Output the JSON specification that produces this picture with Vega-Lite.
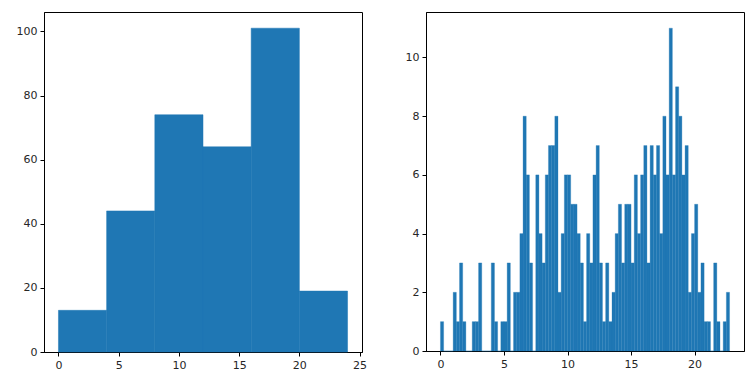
{
  "$schema": "https://vega.github.io/schema/vega-lite/v6.json",
  "padding": {"left": 15, "top": 11, "right": 5, "bottom": 5},
  "background": "white",
  "datasets": {
    "coarse": [
      {"x0": 0, "x1": 4, "count": 13},
      {"x0": 4, "x1": 8, "count": 44},
      {"x0": 8, "x1": 12, "count": 74},
      {"x0": 12, "x1": 16, "count": 64},
      {"x0": 16, "x1": 20, "count": 101},
      {"x0": 20, "x1": 24, "count": 19}
    ],
    "fine": [
      {"x0": 0.0, "x1": 0.25, "count": 1},
      {"x0": 0.25, "x1": 0.5, "count": 0},
      {"x0": 0.5, "x1": 0.75, "count": 0},
      {"x0": 0.75, "x1": 1.0, "count": 0},
      {"x0": 1.0, "x1": 1.25, "count": 2},
      {"x0": 1.25, "x1": 1.5, "count": 1},
      {"x0": 1.5, "x1": 1.75, "count": 3},
      {"x0": 1.75, "x1": 2.0, "count": 1},
      {"x0": 2.0, "x1": 2.25, "count": 0},
      {"x0": 2.25, "x1": 2.5, "count": 0},
      {"x0": 2.5, "x1": 2.75, "count": 1},
      {"x0": 2.75, "x1": 3.0, "count": 1},
      {"x0": 3.0, "x1": 3.25, "count": 3},
      {"x0": 3.25, "x1": 3.5, "count": 0},
      {"x0": 3.5, "x1": 3.75, "count": 0},
      {"x0": 3.75, "x1": 4.0, "count": 0},
      {"x0": 4.0, "x1": 4.25, "count": 3},
      {"x0": 4.25, "x1": 4.5, "count": 1},
      {"x0": 4.5, "x1": 4.75, "count": 0},
      {"x0": 4.75, "x1": 5.0, "count": 1},
      {"x0": 5.0, "x1": 5.25, "count": 1},
      {"x0": 5.25, "x1": 5.5, "count": 3},
      {"x0": 5.5, "x1": 5.75, "count": 0},
      {"x0": 5.75, "x1": 6.0, "count": 2},
      {"x0": 6.0, "x1": 6.25, "count": 2},
      {"x0": 6.25, "x1": 6.5, "count": 4},
      {"x0": 6.5, "x1": 6.75, "count": 8},
      {"x0": 6.75, "x1": 7.0, "count": 6},
      {"x0": 7.0, "x1": 7.25, "count": 3},
      {"x0": 7.25, "x1": 7.5, "count": 0},
      {"x0": 7.5, "x1": 7.75, "count": 6},
      {"x0": 7.75, "x1": 8.0, "count": 4},
      {"x0": 8.0, "x1": 8.25, "count": 3},
      {"x0": 8.25, "x1": 8.5, "count": 6},
      {"x0": 8.5, "x1": 8.75, "count": 7},
      {"x0": 8.75, "x1": 9.0, "count": 7},
      {"x0": 9.0, "x1": 9.25, "count": 8},
      {"x0": 9.25, "x1": 9.5, "count": 2},
      {"x0": 9.5, "x1": 9.75, "count": 4},
      {"x0": 9.75, "x1": 10.0, "count": 6},
      {"x0": 10.0, "x1": 10.25, "count": 6},
      {"x0": 10.25, "x1": 10.5, "count": 5},
      {"x0": 10.5, "x1": 10.75, "count": 5},
      {"x0": 10.75, "x1": 11.0, "count": 4},
      {"x0": 11.0, "x1": 11.25, "count": 3},
      {"x0": 11.25, "x1": 11.5, "count": 1},
      {"x0": 11.5, "x1": 11.75, "count": 4},
      {"x0": 11.75, "x1": 12.0, "count": 3},
      {"x0": 12.0, "x1": 12.25, "count": 6},
      {"x0": 12.25, "x1": 12.5, "count": 7},
      {"x0": 12.5, "x1": 12.75, "count": 3},
      {"x0": 12.75, "x1": 13.0, "count": 1},
      {"x0": 13.0, "x1": 13.25, "count": 3},
      {"x0": 13.25, "x1": 13.5, "count": 1},
      {"x0": 13.5, "x1": 13.75, "count": 2},
      {"x0": 13.75, "x1": 14.0, "count": 4},
      {"x0": 14.0, "x1": 14.25, "count": 5},
      {"x0": 14.25, "x1": 14.5, "count": 3},
      {"x0": 14.5, "x1": 14.75, "count": 5},
      {"x0": 14.75, "x1": 15.0, "count": 5},
      {"x0": 15.0, "x1": 15.25, "count": 3},
      {"x0": 15.25, "x1": 15.5, "count": 6},
      {"x0": 15.5, "x1": 15.75, "count": 4},
      {"x0": 15.75, "x1": 16.0, "count": 6},
      {"x0": 16.0, "x1": 16.25, "count": 7},
      {"x0": 16.25, "x1": 16.5, "count": 3},
      {"x0": 16.5, "x1": 16.75, "count": 7},
      {"x0": 16.75, "x1": 17.0, "count": 6},
      {"x0": 17.0, "x1": 17.25, "count": 7},
      {"x0": 17.25, "x1": 17.5, "count": 4},
      {"x0": 17.5, "x1": 17.75, "count": 8},
      {"x0": 17.75, "x1": 18.0, "count": 6},
      {"x0": 18.0, "x1": 18.25, "count": 11},
      {"x0": 18.25, "x1": 18.5, "count": 6},
      {"x0": 18.5, "x1": 18.75, "count": 9},
      {"x0": 18.75, "x1": 19.0, "count": 8},
      {"x0": 19.0, "x1": 19.25, "count": 6},
      {"x0": 19.25, "x1": 19.5, "count": 7},
      {"x0": 19.5, "x1": 19.75, "count": 2},
      {"x0": 19.75, "x1": 20.0, "count": 4},
      {"x0": 20.0, "x1": 20.25, "count": 5},
      {"x0": 20.25, "x1": 20.5, "count": 2},
      {"x0": 20.5, "x1": 20.75, "count": 3},
      {"x0": 20.75, "x1": 21.0, "count": 1},
      {"x0": 21.0, "x1": 21.25, "count": 1},
      {"x0": 21.25, "x1": 21.5, "count": 0},
      {"x0": 21.5, "x1": 21.75, "count": 3},
      {"x0": 21.75, "x1": 22.0, "count": 1},
      {"x0": 22.0, "x1": 22.25, "count": 0},
      {"x0": 22.25, "x1": 22.5, "count": 1},
      {"x0": 22.5, "x1": 22.75, "count": 2}
    ]
  },
  "config": {
    "font": "DejaVu Sans",
    "view": {"stroke": "black", "strokeWidth": 1},
    "axis": {
      "grid": false,
      "title": null,
      "domainColor": "black",
      "tickColor": "black",
      "tickSize": 4,
      "labelPadding": 3,
      "labelFontSize": 11,
      "labelColor": "#262626",
      "labelFont": "DejaVu Sans"
    }
  },
  "spacing": 36,
  "hconcat": [
    {
      "width": 318,
      "height": 340,
      "data": {"name": "coarse"},
      "mark": {"type": "rect", "fill": "#1f77b4", "stroke": "#1f77b4", "strokeWidth": 0.5},
      "encoding": {
        "x": {"field": "x0", "type": "quantitative", "scale": {"domain": [-1.2, 25.2], "nice": false, "zero": false}, "axis": {"values": [0, 5, 10, 15, 20, 25]}},
        "x2": {"field": "x1"},
        "y": {"field": "count", "type": "quantitative", "scale": {"domain": [0, 106.05], "nice": false}, "axis": {"values": [0, 20, 40, 60, 80, 100]}},
        "y2": {"datum": 0}
      }
    },
    {
      "width": 318,
      "height": 339,
      "data": {"name": "fine"},
      "mark": {"type": "rect", "fill": "#1f77b4", "stroke": "#1f77b4", "strokeWidth": 0.3},
      "encoding": {
        "x": {"field": "x0", "type": "quantitative", "scale": {"domain": [-1.1375, 23.8875], "nice": false, "zero": false}, "axis": {"values": [0, 5, 10, 15, 20]}},
        "x2": {"field": "x1"},
        "y": {"field": "count", "type": "quantitative", "scale": {"domain": [0, 11.55], "nice": false}, "axis": {"values": [0, 2, 4, 6, 8, 10]}},
        "y2": {"datum": 0}
      }
    }
  ]
}
